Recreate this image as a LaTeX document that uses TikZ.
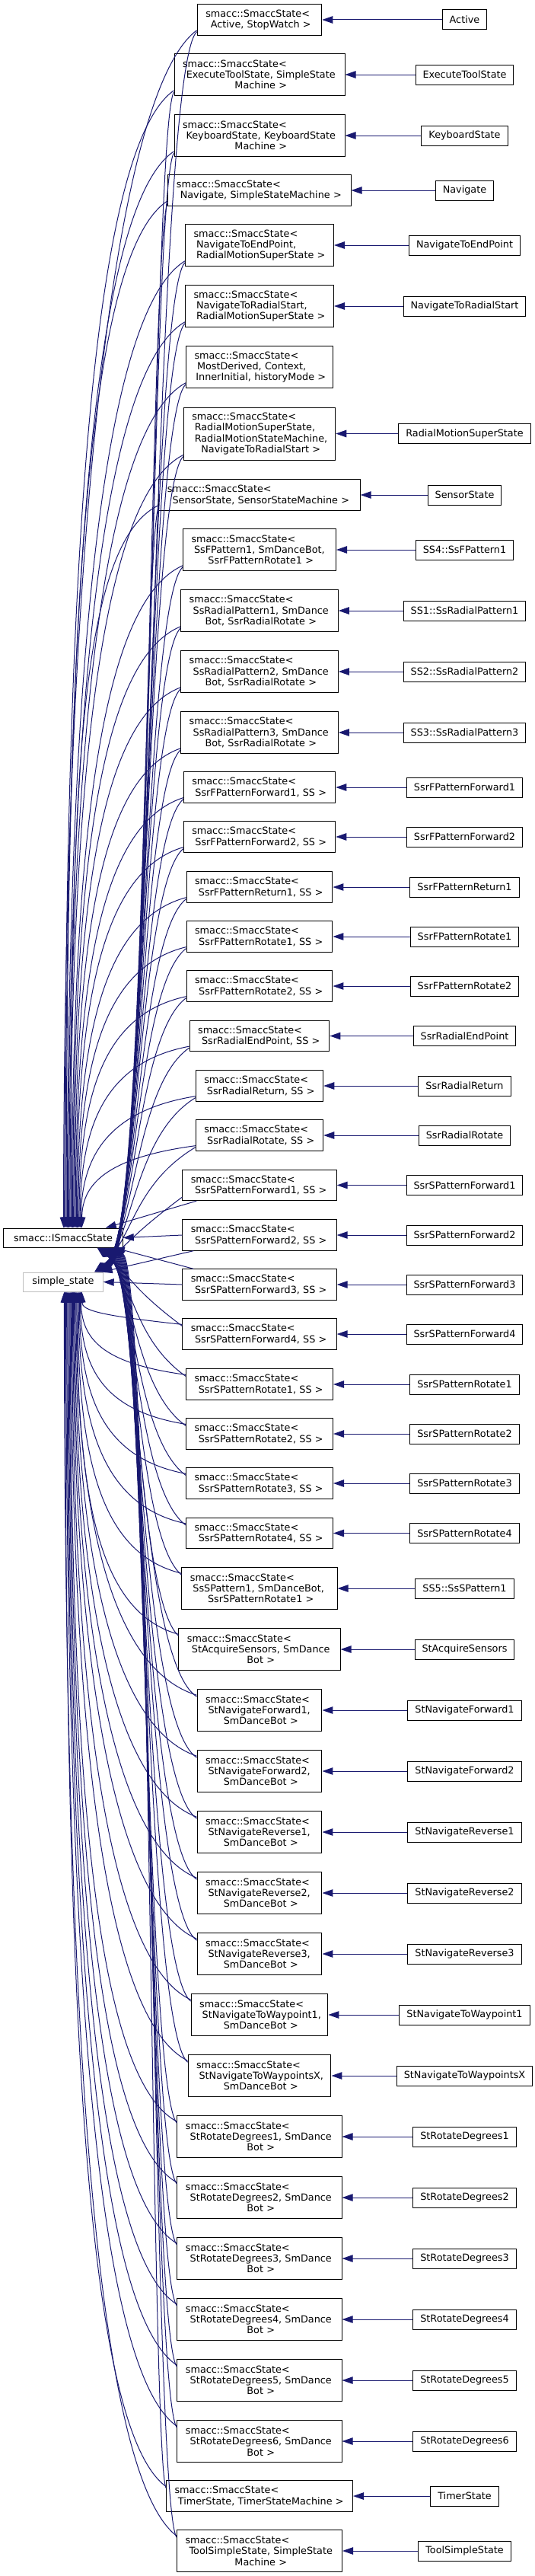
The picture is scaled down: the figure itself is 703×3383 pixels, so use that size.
\documentclass[tikz,border=0pt]{standalone}
\usepackage{fontspec}
\setmainfont{DejaVu Sans}
\usetikzlibrary{arrows.meta,calc}
\definecolor{edgeblue}{HTML}{191970}
\definecolor{lgray}{HTML}{BFBFBF}
\newcommand{\FL}[1]{\makebox[\linewidth][l]{#1}}
\newcommand{\LL}[1]{\makebox[\linewidth][l]{\hspace{3.5pt}#1}}
\newcommand{\CL}[1]{\makebox[\linewidth][c]{\hspace{3.5pt}#1}}
\begin{document}
\begin{tikzpicture}[x=1pt,y=1pt,
  mid/.style={draw=black,line width=1pt,fill=white,inner xsep=11pt,inner ysep=0pt,align=center,font=\fontsize{12.8}{14.3}\selectfont},
  two/.style={minimum height=40.3pt},
  three/.style={minimum height=54.6pt},
  four/.style={minimum height=69pt},
  rt/.style={draw=black,line width=1pt,fill=white,inner xsep=9.5pt,inner ysep=0pt,minimum height=26pt,font=\fontsize{12.8}{14.3}\selectfont},
  base/.style={line width=1pt,inner sep=0pt,minimum height=25pt,font=\fontsize{12.8}{14.3}\selectfont},
  inh/.style={draw=edgeblue,line width=1pt,-{Triangle[length=14pt,width=9.5pt]}},
]
\useasboundingbox (0,0) rectangle (703,-3383);

% base classes
\node[base,draw=black,minimum width=156.5pt] (I) at (83,-1625.5) {smacc::ISmaccState};
\node[base,draw=lgray,minimum width=104.4pt] (ss) at (83,-1683.5) {simple\_state};

% middle column
\node[mid,two,text width=141.5pt] (m1) at (341,-26) {\FL{smacc::SmaccState<}\\\CL{Active, StopWatch >}};
\node[mid,three,text width=202pt] (m2) at (341,-98) {\FL{smacc::SmaccState<}\\\CL{ExecuteToolState, SimpleState}\\\CL{Machine >}};
\node[mid,three,text width=202pt] (m3) at (341,-178) {\FL{smacc::SmaccState<}\\\CL{KeyboardState, KeyboardState}\\\CL{Machine >}};
\node[mid,two,text width=218.1pt] (m4) at (341,-250) {\FL{smacc::SmaccState<}\\\CL{Navigate, SimpleStateMachine >}};
\node[mid,three,text width=173pt] (m5) at (341,-322) {\FL{smacc::SmaccState<}\\\LL{NavigateToEndPoint,}\\\CL{RadialMotionSuperState >}};
\node[mid,three,text width=173pt] (m6) at (341,-402) {\FL{smacc::SmaccState<}\\\LL{NavigateToRadialStart,}\\\CL{RadialMotionSuperState >}};
\node[mid,three,text width=171pt] (m7) at (341,-482) {\FL{smacc::SmaccState<}\\\LL{MostDerived, Context,}\\\CL{InnerInitial, historyMode >}};
\node[mid,four,text width=177.5pt] (m8) at (341,-569.5) {\FL{smacc::SmaccState<}\\\LL{RadialMotionSuperState,}\\\LL{RadialMotionStateMachine,}\\\CL{NavigateToRadialStart >}};
\node[mid,two,text width=242.4pt] (m9) at (341,-650) {\FL{smacc::SmaccState<}\\\CL{SensorState, SensorStateMachine >}};
\node[mid,three,text width=179pt] (m10) at (341,-722) {\FL{smacc::SmaccState<}\\\LL{SsFPattern1, SmDanceBot,}\\\CL{SsrFPatternRotate1 >}};
\node[mid,three,text width=184.6pt] (m11) at (341,-802) {\FL{smacc::SmaccState<}\\\CL{SsRadialPattern1, SmDance}\\\CL{Bot, SsrRadialRotate >}};
\node[mid,three,text width=184.6pt] (m12) at (341,-882) {\FL{smacc::SmaccState<}\\\CL{SsRadialPattern2, SmDance}\\\CL{Bot, SsrRadialRotate >}};
\node[mid,three,text width=184.6pt] (m13) at (341,-962) {\FL{smacc::SmaccState<}\\\CL{SsRadialPattern3, SmDance}\\\CL{Bot, SsrRadialRotate >}};
\node[mid,two,text width=177.5pt] (m14) at (341,-1034) {\FL{smacc::SmaccState<}\\\CL{SsrFPatternForward1, SS >}};
\node[mid,two,text width=177.5pt] (m15) at (341,-1099) {\FL{smacc::SmaccState<}\\\CL{SsrFPatternForward2, SS >}};
\node[mid,two,text width=169.9pt] (m16) at (341,-1165) {\FL{smacc::SmaccState<}\\\CL{SsrFPatternReturn1, SS >}};
\node[mid,two,text width=169.9pt] (m17) at (341,-1230) {\FL{smacc::SmaccState<}\\\CL{SsrFPatternRotate1, SS >}};
\node[mid,two,text width=169.9pt] (m18) at (341,-1295) {\FL{smacc::SmaccState<}\\\CL{SsrFPatternRotate2, SS >}};
\node[mid,two,text width=161.8pt] (m19) at (341,-1360.5) {\FL{smacc::SmaccState<}\\\CL{SsrRadialEndPoint, SS >}};
\node[mid,two,text width=145.5pt] (m20) at (341,-1426) {\FL{smacc::SmaccState<}\\\CL{SsrRadialReturn, SS >}};
\node[mid,two,text width=145.5pt] (m21) at (341,-1491) {\FL{smacc::SmaccState<}\\\CL{SsrRadialRotate, SS >}};
\node[mid,two,text width=180.4pt] (m22) at (341,-1556.5) {\FL{smacc::SmaccState<}\\\CL{SsrSPatternForward1, SS >}};
\node[mid,two,text width=180.4pt] (m23) at (341,-1622) {\FL{smacc::SmaccState<}\\\CL{SsrSPatternForward2, SS >}};
\node[mid,two,text width=180.4pt] (m24) at (341,-1687) {\FL{smacc::SmaccState<}\\\CL{SsrSPatternForward3, SS >}};
\node[mid,two,text width=180.4pt] (m25) at (341,-1752) {\FL{smacc::SmaccState<}\\\CL{SsrSPatternForward4, SS >}};
\node[mid,two,text width=171pt] (m26) at (341,-1818) {\FL{smacc::SmaccState<}\\\CL{SsrSPatternRotate1, SS >}};
\node[mid,two,text width=171pt] (m27) at (341,-1883) {\FL{smacc::SmaccState<}\\\CL{SsrSPatternRotate2, SS >}};
\node[mid,two,text width=171pt] (m28) at (341,-1948) {\FL{smacc::SmaccState<}\\\CL{SsrSPatternRotate3, SS >}};
\node[mid,two,text width=171pt] (m29) at (341,-2013.5) {\FL{smacc::SmaccState<}\\\CL{SsrSPatternRotate4, SS >}};
\node[mid,three,text width=182.1pt] (m30) at (341,-2086) {\FL{smacc::SmaccState<}\\\LL{SsSPattern1, SmDanceBot,}\\\CL{SsrSPatternRotate1 >}};
\node[mid,three,text width=190.1pt] (m31) at (341,-2166) {\FL{smacc::SmaccState<}\\\CL{StAcquireSensors, SmDance}\\\CL{Bot >}};
\node[mid,three,text width=141.9pt] (m32) at (341,-2246) {\FL{smacc::SmaccState<}\\\LL{StNavigateForward1,}\\\CL{SmDanceBot >}};
\node[mid,three,text width=141.9pt] (m33) at (341,-2326) {\FL{smacc::SmaccState<}\\\LL{StNavigateForward2,}\\\CL{SmDanceBot >}};
\node[mid,three,text width=141.9pt] (m34) at (341,-2406) {\FL{smacc::SmaccState<}\\\LL{StNavigateReverse1,}\\\CL{SmDanceBot >}};
\node[mid,three,text width=141.9pt] (m35) at (341,-2486) {\FL{smacc::SmaccState<}\\\LL{StNavigateReverse2,}\\\CL{SmDanceBot >}};
\node[mid,three,text width=141.9pt] (m36) at (341,-2566) {\FL{smacc::SmaccState<}\\\LL{StNavigateReverse3,}\\\CL{SmDanceBot >}};
\node[mid,three,text width=157.6pt] (m37) at (341,-2646) {\FL{smacc::SmaccState<}\\\LL{StNavigateToWaypoint1,}\\\CL{SmDanceBot >}};
\node[mid,three,text width=165.9pt] (m38) at (341,-2726) {\FL{smacc::SmaccState<}\\\LL{StNavigateToWaypointsX,}\\\CL{SmDanceBot >}};
\node[mid,three,text width=194.2pt] (m39) at (341,-2806) {\FL{smacc::SmaccState<}\\\CL{StRotateDegrees1, SmDance}\\\CL{Bot >}};
\node[mid,three,text width=194.2pt] (m40) at (341,-2886) {\FL{smacc::SmaccState<}\\\CL{StRotateDegrees2, SmDance}\\\CL{Bot >}};
\node[mid,three,text width=194.2pt] (m41) at (341,-2966) {\FL{smacc::SmaccState<}\\\CL{StRotateDegrees3, SmDance}\\\CL{Bot >}};
\node[mid,three,text width=194.2pt] (m42) at (341,-3046) {\FL{smacc::SmaccState<}\\\CL{StRotateDegrees4, SmDance}\\\CL{Bot >}};
\node[mid,three,text width=194.2pt] (m43) at (341,-3126) {\FL{smacc::SmaccState<}\\\CL{StRotateDegrees5, SmDance}\\\CL{Bot >}};
\node[mid,three,text width=194.2pt] (m44) at (341,-3206) {\FL{smacc::SmaccState<}\\\CL{StRotateDegrees6, SmDance}\\\CL{Bot >}};
\node[mid,two,text width=223pt] (m45) at (341,-3278) {\FL{smacc::SmaccState<}\\\CL{TimerState, TimerStateMachine >}};
\node[mid,three,text width=195pt] (m46) at (341,-3350) {\FL{smacc::SmaccState<}\\\CL{ToolSimpleState, SimpleState}\\\CL{Machine >}};

% right column
\node[rt] (r1) at (610.5,-26) {Active};
\node[rt] (r2) at (610.5,-98) {ExecuteToolState};
\node[rt] (r3) at (610.5,-178) {KeyboardState};
\node[rt] (r4) at (610.5,-250) {Navigate};
\node[rt] (r5) at (610.5,-322) {NavigateToEndPoint};
\node[rt] (r6) at (610.5,-402) {NavigateToRadialStart};
\node[rt] (r8) at (610.5,-569.5) {RadialMotionSuperState};
\node[rt] (r9) at (610.5,-650) {SensorState};
\node[rt] (r10) at (610.5,-722) {SS4::SsFPattern1};
\node[rt] (r11) at (610.5,-802) {SS1::SsRadialPattern1};
\node[rt] (r12) at (610.5,-882) {SS2::SsRadialPattern2};
\node[rt] (r13) at (610.5,-962) {SS3::SsRadialPattern3};
\node[rt] (r14) at (610.5,-1034) {SsrFPatternForward1};
\node[rt] (r15) at (610.5,-1099) {SsrFPatternForward2};
\node[rt] (r16) at (610.5,-1165) {SsrFPatternReturn1};
\node[rt] (r17) at (610.5,-1230) {SsrFPatternRotate1};
\node[rt] (r18) at (610.5,-1295) {SsrFPatternRotate2};
\node[rt] (r19) at (610.5,-1360.5) {SsrRadialEndPoint};
\node[rt] (r20) at (610.5,-1426) {SsrRadialReturn};
\node[rt] (r21) at (610.5,-1491) {SsrRadialRotate};
\node[rt] (r22) at (610.5,-1556.5) {SsrSPatternForward1};
\node[rt] (r23) at (610.5,-1622) {SsrSPatternForward2};
\node[rt] (r24) at (610.5,-1687) {SsrSPatternForward3};
\node[rt] (r25) at (610.5,-1752) {SsrSPatternForward4};
\node[rt] (r26) at (610.5,-1818) {SsrSPatternRotate1};
\node[rt] (r27) at (610.5,-1883) {SsrSPatternRotate2};
\node[rt] (r28) at (610.5,-1948) {SsrSPatternRotate3};
\node[rt] (r29) at (610.5,-2013.5) {SsrSPatternRotate4};
\node[rt] (r30) at (610.5,-2086) {SS5::SsSPattern1};
\node[rt] (r31) at (610.5,-2166) {StAcquireSensors};
\node[rt] (r32) at (610.5,-2246) {StNavigateForward1};
\node[rt] (r33) at (610.5,-2326) {StNavigateForward2};
\node[rt] (r34) at (610.5,-2406) {StNavigateReverse1};
\node[rt] (r35) at (610.5,-2486) {StNavigateReverse2};
\node[rt] (r36) at (610.5,-2566) {StNavigateReverse3};
\node[rt] (r37) at (610.5,-2646) {StNavigateToWaypoint1};
\node[rt] (r38) at (610.5,-2726) {StNavigateToWaypointsX};
\node[rt] (r39) at (610.5,-2806) {StRotateDegrees1};
\node[rt] (r40) at (610.5,-2886) {StRotateDegrees2};
\node[rt] (r41) at (610.5,-2966) {StRotateDegrees3};
\node[rt] (r42) at (610.5,-3046) {StRotateDegrees4};
\node[rt] (r43) at (610.5,-3126) {StRotateDegrees5};
\node[rt] (r44) at (610.5,-3206) {StRotateDegrees6};
\node[rt] (r45) at (610.5,-3278) {TimerState};
\node[rt] (r46) at (610.5,-3350) {ToolSimpleState};

% right -> middle
\foreach \i in {1,2,3,4,5,6,8,9,10,11,12,13,14,15,16,17,18,19,20,21,22,23,24,25,26,27,28,29,30,31,32,33,34,35,36,37,38,39,40,41,42,43,44,45,46}
  \draw[inh] (r\i) -- (m\i);

% upper rows -> ISmaccState (top)
\foreach \i in {1,...,21} {
  \pgfmathsetmacro{\tx}{84+1.2*(\i-1)}
  \draw[inh] let \p1=($(m\i.south west)+(0,7)$) in
    (\p1) .. controls ({\x1-110pt},{\y1-0.045*(\y1+1613pt)-10pt}) and ({\tx pt},{-1613pt+0.57*(\y1+1613pt)})
    .. ($(I.north west)+({\tx-4.75},0)$);
}
% upper rows -> simple_state (top)
\foreach \i in {1,...,22} {
  \pgfmathsetmacro{\bx}{200-1.3*(\i-1)}
  \pgfmathsetmacro{\sx}{134-0.45*(\i-1)}
  \draw[inh] let \p1=($(m\i.south west)+(0,5)$) in
    (\p1) .. controls ({\bx pt},{\y1-50pt}) and ({\bx pt},-1630pt)
    .. ($(ss.north west)+({\sx-30.8},0)$);
}
% special rows near the base classes
\draw[inh] ($(m22.south west)+(19,0)$) -- ($(I.north east)+(-23,0)$);
\draw[inh] (m23.west) -- (I.east);
\draw[inh] ($(m23.south west)+(15,0)$) -- ($(ss.north east)+(-2,0)$);
\draw[inh] (m24.west) -- (ss.east);
\draw[inh] ($(m24.north west)+(15,0)$) -- ($(I.south east)+(-12,0)$);

% lower rows -> ISmaccState (bottom) and simple_state (bottom)
\foreach \i in {25,...,46} {
  \pgfmathsetmacro{\tx}{128+1.1*(\i-25)}
  \pgfmathsetmacro{\bx}{172+1.3*(\i-25)}
  \pgfmathsetmacro{\ux}{108-1.1*(\i-25)}
  \draw[inh] let \p1=($(m\i.north west)+(0,-10)$) in
    (\p1) .. controls ({\bx pt},{\y1+50pt}) and ({\bx pt},-1675pt)
    .. ($(I.south west)+({\tx-4.75},0)$);
  \draw[inh] let \p1=($(m\i.north west)+(0,-8)$) in
    (\p1) .. controls ({\x1-110pt},{\y1+0.045*(-1696pt-\y1)+10pt}) and ({\ux pt},{-1696pt-0.57*(-1696pt-\y1)})
    .. ($(ss.south west)+({\ux-30.8},0)$);
}
\end{tikzpicture}
\end{document}
